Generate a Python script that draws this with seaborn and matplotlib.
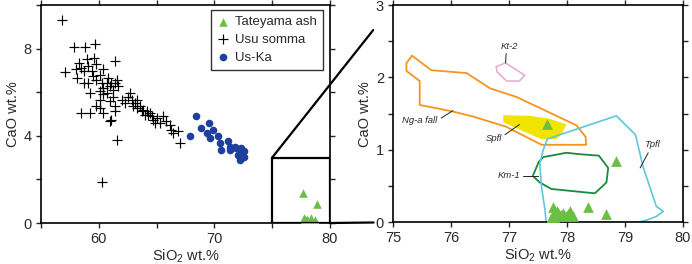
import matplotlib
matplotlib.use("Agg")
import matplotlib.pyplot as plt
import seaborn as sns
import pandas as pd
from matplotlib.patches import Rectangle, ConnectionPatch

# ---------------- data ----------------
usu_sio2 = [56.8, 57.1, 57.9, 58.8, 59.7, 58.3, 58.5, 58.0, 58.1, 58.7, 59.0, 59.1, 59.6, 59.8,
            59.4, 59.1, 59.25, 59.8, 60.1, 60.4, 60.26, 60.7, 61.1, 61.55, 61.7, 61.4, 60.1,
            60.4, 60.7, 60.1, 59.8, 60.1, 61.0, 61.26, 61.4, 61.4, 60.4, 59.25, 58.5, 61.1,
            61.0, 61.55, 60.26, 62.0, 62.56, 62.7, 62.85, 63.13, 63.28, 63.0, 63.56, 63.85,
            64.14, 64.43, 64.57, 64.7, 65.0, 64.86, 65.29, 65.57, 65.86, 66.15, 66.29, 66.44,
            66.87, 67.0, 62.27, 63.7, 64.0, 64.28, 63.28, 58.68, 59.54, 60.8, 61.26, 60.98,
            61.4, 60.4]
usu_cao = [9.32, 6.92, 8.09, 8.09, 8.2, 7.35, 7.12, 7.05, 6.66, 6.97, 7.5, 7.2, 7.58, 7.28,
           6.97, 6.43, 5.97, 6.58, 6.8, 7.05, 6.43, 6.43, 6.43, 6.58, 6.28, 7.43, 6.05,
           5.9, 5.97, 5.66, 5.35, 5.28, 5.58, 5.8, 5.35, 5.12, 5.05, 5.05, 5.05, 4.74,
           4.66, 3.82, 1.89, 5.66, 5.8, 5.97, 5.66, 5.5, 5.28, 5.35, 5.35, 5.2,
           5.12, 5.05, 4.89, 4.74, 4.82, 4.58, 4.58, 4.89, 4.66, 4.5, 4.28, 4.12,
           4.2, 3.66, 5.5, 5.12, 4.97, 4.97, 5.66, 6.43, 6.74, 6.66, 6.12, 6.28,
           6.43, 6.2]

uska_sio2 = [67.87, 68.45, 68.82, 69.54, 69.89, 69.37, 69.6, 70.3, 70.46, 70.6, 71.18, 71.32,
             71.32, 71.75, 71.9, 72.18, 72.33, 72.6, 72.03, 72.18, 72.47, 72.6, 72.33]
uska_cao = [3.97, 4.89, 4.35, 4.58, 4.28, 4.12, 3.89, 3.97, 3.66, 3.35, 3.74, 3.5,
            3.35, 3.5, 3.43, 3.35, 3.2, 3.28, 3.12, 2.89, 3.05, 3.05, 3.43]

tate_sio2 = [77.66, 78.85, 78.36, 78.67, 77.76, 77.82, 77.87, 77.93, 78.02, 78.05, 78.07,
             77.73, 77.79, 77.84, 77.9, 77.98, 78.1, 77.76]
tate_cao = [1.36, 0.85, 0.21, 0.12, 0.21, 0.15, 0.12, 0.13, 0.12, 0.15, 0.10,
            0.06, 0.04, 0.08, 0.10, 0.09, 0.09, 0.10]

# reference field outlines (SiO2, CaO)
nga_x = [75.33, 75.23, 75.23, 75.46, 75.46, 76.03, 76.38, 76.95, 77.56, 78.33, 78.32, 78.16,
         77.13, 76.67, 76.27, 75.66, 75.33]
nga_y = [2.30, 2.20, 2.09, 1.95, 1.62, 1.53, 1.46, 1.32, 1.07, 1.07, 1.18, 1.34,
         1.73, 1.85, 2.06, 2.10, 2.30]
kt2_x = [76.78, 76.94, 77.27, 77.18, 76.96, 76.79, 76.78]
kt2_y = [2.15, 2.20, 2.03, 1.95, 1.95, 2.08, 2.15]
spfl_x = [76.9, 77.36, 77.7, 77.99, 77.92, 77.82, 77.55, 76.9]
spfl_y = [1.48, 1.47, 1.43, 1.35, 1.24, 1.15, 1.15, 1.38]
km1_x = [77.51, 77.59, 77.99, 78.22, 78.55, 78.71, 78.68, 78.48, 77.73, 77.53, 77.41, 77.51]
km1_y = [0.83, 0.90, 0.96, 0.94, 0.92, 0.75, 0.55, 0.40, 0.46, 0.55, 0.64, 0.83]
tpfl_x = [77.66, 78.85, 79.18, 79.31, 79.54, 79.66, 79.54, 79.37, 79.22, 77.64, 77.62, 77.56,
          77.53, 77.59, 77.66]
tpfl_y = [1.15, 1.47, 1.21, 0.77, 0.22, 0.15, 0.08, 0.03, 0.0, 0.0, 0.17, 0.49,
          0.81, 1.00, 1.15]

field_names = ["Kt-2", "Ng-a fall", "Spfl", "Km-1", "Tpfl"]
label_xy = [(77.01, 2.43), (75.46, 1.40), (76.74, 1.16), (77.0, 0.645), (79.47, 1.07)]
leader_start = [(76.95, 2.33), (75.83, 1.44), (76.93, 1.21), (77.24, 0.645), (79.40, 0.96)]
leader_end = [(76.94, 2.20), (76.03, 1.54), (77.18, 1.35), (77.5, 0.645), (79.26, 0.75)]

zoom_x = (75, 80)
zoom_y = (0, 3)

# ---------------- style ----------------
sns.set_style("white")
plt.rcParams['font.family'] = ['Liberation Sans', 'DejaVu Sans']
plt.rcParams['mathtext.fontset'] = 'custom'
plt.rcParams['mathtext.rm'] = 'Liberation Sans'
plt.rcParams['mathtext.it'] = 'Liberation Sans:italic'

fig = plt.figure(figsize=(6.92, 2.64), dpi=100)
ax1 = fig.add_axes([0.0592, 0.1553, 0.4176, 0.8258])
ax2 = fig.add_axes([0.568, 0.158, 0.419, 0.823])

green = '#6cbf45'
blue = '#1f3f9c'
txtc = '#2a2a2a'
fs = 10.5

df_usu = pd.DataFrame({'SiO2': usu_sio2, 'CaO': usu_cao})
df_uska = pd.DataFrame({'SiO2': uska_sio2, 'CaO': uska_cao})
df_tate = pd.DataFrame({'SiO2': tate_sio2, 'CaO': tate_cao})

sns.scatterplot(data=df_usu, x='SiO2', y='CaO', ax=ax1, marker='+', color='black',
                s=60, linewidth=0.85, label='Usu somma', zorder=3)
sns.scatterplot(data=df_uska, x='SiO2', y='CaO', ax=ax1, marker='o', color=blue,
                s=30, linewidth=0, label='Us-Ka', zorder=3)
sns.scatterplot(data=df_tate, x='SiO2', y='CaO', ax=ax1, marker='^', color=green,
                s=38, linewidth=0, label='Tateyama ash', zorder=3)

ax1.add_patch(Rectangle((zoom_x[0], zoom_y[0]), zoom_x[1] - zoom_x[0], zoom_y[1] - zoom_y[0],
                        fill=False, lw=1.6, edgecolor='black', zorder=4))

h, l = ax1.get_legend_handles_labels()
order = [2, 0, 1]
leg = ax1.legend([h[i] for i in order], [l[i] for i in order], loc='upper right',
                 bbox_to_anchor=(0.976, 0.977), borderaxespad=0, frameon=True, fancybox=False,
                 edgecolor='black', fontsize=9.5, handletextpad=0.45, borderpad=0.45,
                 labelspacing=0.42, handlelength=0.9, markerscale=1.0)
leg.get_frame().set_linewidth(1.0)
for t in leg.get_texts():
    t.set_color(txtc)

ax1.set_xlim(55, 80)
ax1.set_ylim(0, 10)
ax1.set_xticks([55, 60, 65, 70, 75, 80])
ax1.set_xticklabels(['', '60', '', '70', '', '80'])
ax1.set_yticks([0, 2, 4, 6, 8, 10])
ax1.set_yticklabels(['0', '', '4', '', '8', ''])

# right panel
ax2.fill(spfl_x, spfl_y, color='#f1e400', lw=0, zorder=1)
sns.lineplot(x=nga_x, y=nga_y, ax=ax2, sort=False, estimator=None, color='#f7941d', lw=1.3, zorder=2)
sns.lineplot(x=kt2_x, y=kt2_y, ax=ax2, sort=False, estimator=None, color='#e6aacb', lw=1.1, zorder=2)
sns.lineplot(x=km1_x, y=km1_y, ax=ax2, sort=False, estimator=None, color='#1a8a3c', lw=1.3, zorder=2)
sns.lineplot(x=tpfl_x, y=tpfl_y, ax=ax2, sort=False, estimator=None, color='#5ec8dc', lw=1.2, zorder=2)
sns.scatterplot(data=df_tate, x='SiO2', y='CaO', ax=ax2, marker='^', color=green,
                s=60, linewidth=0, zorder=3)

for name, (tx, ty), (sx, sy), (ex, ey) in zip(field_names, label_xy, leader_start, leader_end):
    ax2.text(tx, ty, name, fontsize=6.8, style='italic', color=txtc, ha='center', va='center')
    ax2.plot([sx, ex], [sy, ey], color='#222222', lw=0.7, zorder=2)

ax2.set_xlim(*zoom_x)
ax2.set_ylim(*zoom_y)
ax2.set_xticks([75, 76, 77, 78, 79, 80])
ax2.set_yticks([0, 0.5, 1, 1.5, 2, 2.5, 3])
ax2.set_yticklabels(['0', '', '1', '', '2', '', '3'])

for ax in (ax1, ax2):
    ax.set_xlabel('SiO$_2$ wt.%', fontsize=fs, color=txtc, labelpad=1)
    ax.set_ylabel('CaO wt.%', fontsize=fs, color=txtc, labelpad=3)
    ax.tick_params(direction='out', length=3.5, width=1.0, pad=3, labelsize=fs,
                   labelcolor=txtc, top=True, right=True, bottom=True, left=True)
    for sp in ax.spines.values():
        sp.set_visible(True)
        sp.set_linewidth(1.2)
        sp.set_color('black')

# zoom connector lines
con1 = ConnectionPatch(xyA=(zoom_x[0], zoom_y[1]), coordsA=ax1.transData,
                       xyB=(zoom_x[0], zoom_y[1]), coordsB=ax2.transData,
                       lw=1.6, color='black', shrinkB=23)
con2 = ConnectionPatch(xyA=(zoom_x[1], zoom_y[0]), coordsA=ax1.transData,
                       xyB=(zoom_x[0], zoom_y[0]), coordsB=ax2.transData,
                       lw=1.6, color='black', shrinkB=14)
fig.add_artist(con1)
fig.add_artist(con2)

fig.savefig('out.png', dpi=100)
